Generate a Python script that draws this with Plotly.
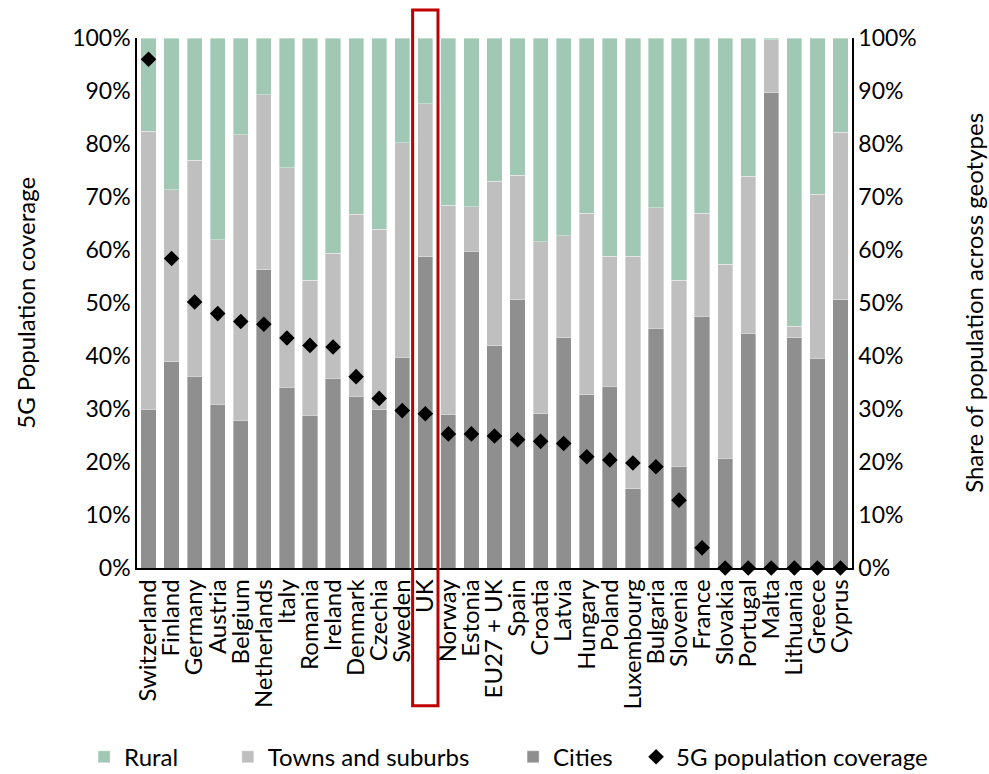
import plotly.graph_objects as go

countries = ["Switzerland", "Finland", "Germany", "Austria", "Belgium", "Netherlands",
             "Italy", "Romania", "Ireland", "Denmark", "Czechia", "Sweden", "UK",
             "Norway", "Estonia", "EU27 + UK", "Spain", "Croatia", "Latvia", "Hungary",
             "Poland", "Luxembourg", "Bulgaria", "Slovenia", "France", "Slovakia",
             "Portugal", "Malta", "Lithuania", "Greece", "Cyprus"]

# Share of population living in cities (%)
cities = [30.0, 38.9, 36.2, 30.9, 27.9, 56.3, 34.1, 28.8, 35.8, 32.4, 29.9, 39.8, 58.7,
          29.0, 59.8, 41.9, 50.6, 29.1, 43.4, 32.7, 34.3, 15.0, 45.2, 19.2, 47.5, 20.7,
          44.3, 89.7, 43.4, 39.6, 50.6]
# Share of population living in towns and suburbs (%)
towns = [52.4, 32.5, 40.7, 31.0, 53.8, 33.0, 41.4, 25.5, 23.6, 34.3, 34.0, 40.4, 28.9,
         39.4, 8.4, 31.1, 23.5, 32.5, 19.3, 34.2, 24.5, 43.8, 22.8, 35.1, 19.4, 36.6,
         29.6, 10.0, 2.2, 30.9, 31.6]
# Share of population living in rural areas (%)
rural = [17.6, 28.6, 23.1, 38.1, 18.3, 10.7, 24.5, 45.7, 40.6, 33.3, 36.1, 19.8, 12.4,
         31.6, 31.8, 27.0, 25.9, 38.4, 37.3, 33.1, 41.2, 41.2, 32.0, 45.7, 33.1, 42.7,
         26.1, 0.3, 54.4, 29.5, 17.8]
# 5G population coverage (%)
coverage = [96.0, 58.4, 50.2, 48.0, 46.5, 46.0, 43.4, 42.0, 41.7, 36.1, 32.0, 29.7, 29.1,
            25.3, 25.3, 24.9, 24.2, 23.9, 23.5, 21.0, 20.4, 19.8, 19.1, 12.8, 3.8, 0.0,
            0.0, 0.0, 0.0, 0.0, 0.0]

highlight = "UK"

FONT = "Lato, 'Open Sans', sans-serif"
bar_line = dict(color="rgba(255,255,255,0.6)", width=0.6)

fig = go.Figure()
fig.add_trace(go.Bar(x=countries, y=cities, name="Cities", marker=dict(color="#8F8F8F", line=bar_line),
                     yaxis="y", legend="legend3"))
fig.add_trace(go.Bar(x=countries, y=towns, name="Towns and suburbs", marker=dict(color="#BFBFBF", line=bar_line),
                     yaxis="y", legend="legend2"))
fig.add_trace(go.Bar(x=countries, y=rural, name="Rural", marker=dict(color="#A0C8B5", line=bar_line),
                     yaxis="y", legend="legend"))
fig.add_trace(go.Scatter(x=countries, y=coverage, name="5G population coverage", mode="markers",
                         marker=dict(symbol="diamond", color="black", size=12),
                         yaxis="y2", cliponaxis=False, legend="legend4"))

axis_common = dict(range=[0, 100], tickvals=list(range(0, 101, 10)),
                   ticktext=[f"{v}%" for v in range(0, 101, 10)],
                   showgrid=False, zeroline=False, showline=True, linecolor="black",
                   linewidth=1.5, ticks="", tickfont=dict(size=23, color="black"),
                   automargin=False)

# Red frame around the highlighted country
idx = countries.index(highlight)
fig.add_shape(type="rect", xref="x", yref="paper", x0=idx - 0.55, x1=idx + 0.55,
              y0=-0.26, y1=1.053, line=dict(color="#C00000", width=3), layer="above")


def legend_box(x):
    # one legend entry per box so the entries can be spaced out along the bottom
    return dict(orientation="h", x=x, xanchor="left", y=-0.357, yanchor="middle",
                font=dict(size=24), bgcolor="rgba(0,0,0,0)")


fig.update_layout(
    width=989, height=774,
    margin=dict(l=137, r=137, t=38, b=206, autoexpand=False),
    barmode="stack", bargap=0.34,
    plot_bgcolor="white", paper_bgcolor="white",
    font=dict(family=FONT, color="black", size=22),
    xaxis=dict(type="category", tickmode="array", tickvals=countries, ticktext=countries,
               range=[-0.5, len(countries) - 0.5], autorange=False,
               tickangle=-90, showline=True, linecolor="black", linewidth=1.5,
               ticks="", tickfont=dict(size=24), showgrid=False, automargin=False),
    yaxis=dict(side="right", **axis_common),
    yaxis2=dict(side="left", overlaying="y", **axis_common),
    legend=legend_box(-0.074),
    legend2=legend_box(0.127),
    legend3=legend_box(0.526),
    legend4=legend_box(0.698),
    showlegend=True,
    annotations=[
        dict(text="5G Population coverage", xref="paper", yref="paper", x=-0.157, y=0.5,
             textangle=-90, showarrow=False, font=dict(size=24), xanchor="center", yanchor="middle"),
        dict(text="Share of population across geotypes", xref="paper", yref="paper", x=1.169, y=0.5,
             textangle=-90, showarrow=False, font=dict(size=24), xanchor="center", yanchor="middle"),
    ],
)

fig.write_html("out.html")
